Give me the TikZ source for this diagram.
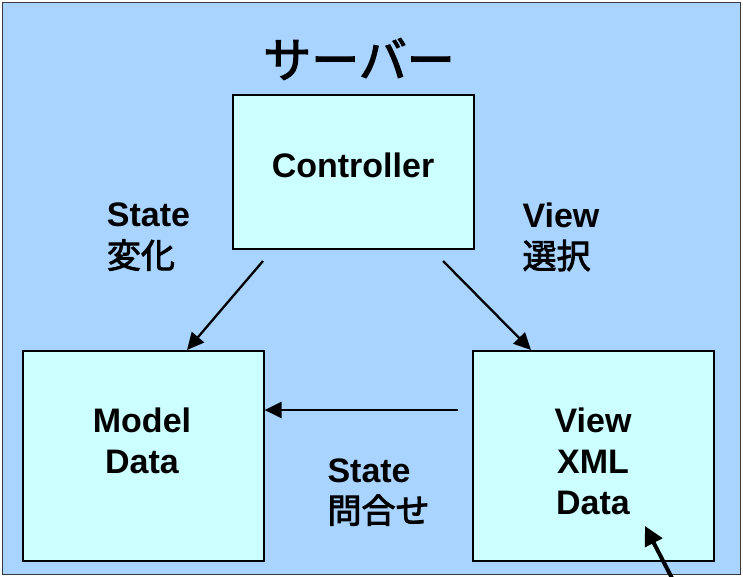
\documentclass[tikz,border=0pt]{standalone}
\usepackage{fontspec}
\setmainfont{Liberation Sans}
\newfontfamily\jpfont[AutoFakeBold=2.5]{Noto Sans CJK JP}
\newcommand{\jp}[1]{{\jpfont #1}}
\usetikzlibrary{arrows.meta}
\definecolor{serverbg}{HTML}{A8D4FF}
\definecolor{boxbg}{HTML}{CCFFFF}
\definecolor{frame}{HTML}{3A3A3A}
\tikzset{
  server/.style={draw=frame, line width=1.6pt, fill=serverbg},
  part/.style={draw=black, line width=1.6pt, fill=boxbg, inner sep=0pt},
  lbl/.style={align=center, inner sep=0pt,
    font=\fontsize{34}{41}\selectfont\bfseries},
  lbll/.style={lbl, align=left},
  flow/.style={line width=2.3pt, -{Triangle[width=16pt,length=17pt]}},
  bigflow/.style={line width=4pt, -{Triangle[width=19pt,length=19pt]}},
}
\begin{document}
\begin{tikzpicture}[x=1pt,y=-1pt]
\useasboundingbox (0,0) rectangle (743,576);
% server frame
\node[server, minimum width=738pt, minimum height=572pt, anchor=north west] (srv) at (1.5,1.5) {};
\node[font=\fontsize{48}{48}\selectfont\bfseries, inner sep=0pt] (title) at (359,59) {\jp{サーバー}};
% components
\node[part, minimum width=241pt, minimum height=154pt, anchor=north west] (ctrl) at (232,94) {};
\node[part, minimum width=241pt, minimum height=210pt, anchor=north west] (model) at (22,350) {};
\node[part, minimum width=241pt, minimum height=210pt, anchor=north west] (view) at (472,350) {};
% labels
\node[lbl] (tctrl) at (353,165) {Controller};
\node[lbl] (tmodel) at (142,441) {Model\\Data};
\node[lbl] (tview) at (593,461) {View\\XML\\Data};
\node[lbll] (tchg) at (148.5,237) {State\\\jp{変化}};
\node[lbll] (tsel) at (561,237) {View\\\jp{選択}};
\node[lbll] (tqry) at (378.5,492) {State\\\jp{問合せ}};
% connectors
\coordinate (c1) at (263,261);
\coordinate (c2) at (443,261);
\coordinate (v1) at (458,410);
\coordinate (u1) at (674,582);
\coordinate (u2) at (645,526);
\draw[flow] (c1) -- (model.north -| 187,0);
\draw[flow] (c2) -- (view.north -| 531,0);
\draw[flow] (v1) -- (model.east |- v1);
\draw[bigflow] (u1) -- (u2);
\end{tikzpicture}
\end{document}
